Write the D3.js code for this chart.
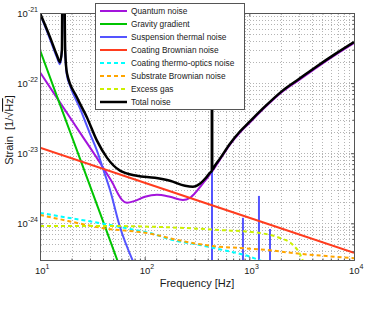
<!DOCTYPE html>
<html>
<head>
<meta charset="utf-8">
<script src="https://cdn.jsdelivr.net/npm/d3@7"></script>
<style>
body { margin: 0; background: #fff; }
text { font-family: "Liberation Sans", Arial, sans-serif; fill: #1a1a1a; }
</style>
</head>
<body>
<div id="chart"></div>
<script>

// data: [frequency Hz, strain 1/sqrt(Hz)]

const quantumNoise = [[10,1.43e-22],[15.5,5.31e-23],[24.1,1.97e-23],[37.4,7.33e-24],[43.6,5.1e-24],[49.8,3.67e-24],[55.6,2.64e-24],[60.7,2.16e-24],[67.8,1.96e-24],[80.7,2.09e-24],[100.7,2.39e-24],[131,2.55e-24],[174.5,2.39e-24],[232,2.16e-24],[271,2.31e-24],[316,2.91e-24],[377,4.05e-24],[440,5.45e-24],[524,8.09e-24],[653,1.33e-23],[813,1.97e-23],[1013,2.74e-23],[1349,4.22e-23],[2094,7.64e-23],[3043,1.13e-22],[4426,1.68e-22],[6577,2.5e-22],[10000,3.72e-22]]

const gravityGradient = [[10,2.95e-22],[15.5,4.97e-23],[24.1,8.38e-24],[37.4,1.41e-24],[55.6,2.8e-25]]

const suspensionThermal = [[10,9.7e-22],[12.46,4.25e-22],[14.5,2.34e-22],[15.5,1.86e-22],[16.2,2.9e-22],[16.4,5e-21],[17.0,5e-21],[17.4,2.76e-22],[18.1,1.29e-22],[19.3,9.33e-23],[24.1,4.35e-23],[30.0,1.91e-23],[35.0,1.09e-23],[40.0,6.01e-24],[46.6,3.01e-24],[58.1,8.87e-25],[77.3,2.89e-25]]

// violin mode peaks of the suspension
const violinFreqs = [440, 869, 1236, 1575]
const violinPeaks = [1e-21, 1.2e-24, 2.46e-24, 8.3e-25]

const coatingBrownian = [[10,1.2e-23],[100,3.8e-24],[1000,1.2e-24],[10000,3.8e-25]]

const coatingThermoOptic = [[10,1.41e-24],[19.3,1.19e-24],[37.4,1.01e-24],[72.4,8.31e-25],[112,7.28e-25],[186,5.78e-25],[337,4.91e-25],[560,4.16e-25],[908,3.52e-25],[1320,2.89e-25]]

const substrateBrownian = [[10,1.32e-24],[18.5,1.08e-24],[39.1,8.59e-25],[117.5,7.05e-25],[186,5.98e-25],[449,4.74e-25],[813,4.44e-25],[1507,4.16e-25],[2608,3.77e-25],[5508,3.41e-25],[10000,3.19e-25]]

const excessGas = [[10,9.18e-25],[37.4,9.18e-25],[140,8.87e-25],[524,8.03e-25],[1262,7.28e-25],[1958,6.18e-25],[2553,5.07e-25],[3043,3.65e-25],[3318,2.71e-25]]

const totalNoise = [[10,1e-21],[12.46,4.53e-22],[14.5,2.5e-22],[15.5,1.99e-22],[16.2,2.95e-22],[16.4,5e-21],[17.0,5e-21],[17.4,2.95e-22],[18.1,1.38e-22],[22.5,6.27e-23],[28.1,3.24e-23],[35.0,1.51e-23],[43.6,8.65e-24],[58.1,5.64e-24],[84.4,4.77e-24],[125,4.47e-24],[174.5,4.05e-24],[243,3.43e-24],[289,3.32e-24],[337,3.67e-24],[385,4.47e-24],[421,5.27e-24],[438,5.6e-24],[439,5e-21],[441,5e-21],[442,5.8e-24],[469,6.64e-24],[524,8.38e-24],[653,1.37e-23],[813,2.04e-23],[1013,2.84e-23],[1349,4.35e-23],[2094,7.88e-23],[3043,1.17e-22],[4426,1.74e-22],[6577,2.59e-22],[10000,3.85e-22]]

const seriesNames = ["Quantum noise", "Gravity gradient", "Suspension thermal noise", "Coating Brownian noise",
  "Coating thermo-optics noise", "Substrate Brownian noise", "Excess gas", "Total noise"]
const seriesData = [quantumNoise, gravityGradient, suspensionThermal, coatingBrownian,
  coatingThermoOptic, substrateBrownian, excessGas, totalNoise]

const xTicks = [10, 100, 1000, 10000]
const xTickExp = ["1", "2", "3", "4"]
const yTicks = [1e-21, 1e-22, 1e-23, 1e-24]
const yTickExp = ["-21", "-22", "-23", "-24"]

// styles

const styles = [
  {color: "#a314dc", width: 2},
  {color: "#00c400", width: 2},
  {color: "#5454ff", width: 2},
  {color: "#ff3c1e", width: 2},
  {color: "#00ffff", width: 2, dash: "4,3"},
  {color: "#ffa500", width: 2, dash: "4,3"},
  {color: "#ccf000", width: 2, dash: "4,3"},
  {color: "#000000", width: 2.5}
]

const width = 388
const height = 309
const margin = {top: 13, right: 34, bottom: 49, left: 40}
const innerW = width - margin.left - margin.right
const innerH = height - margin.top - margin.bottom

const svg = d3.select("#chart")
  .append("svg")
  .attr("width", width)
  .attr("height", height)

const g = svg.append("g")
  .attr("transform", `translate(${margin.left},${margin.top})`)

// scales

const xScale = d3.scaleLog()
  .domain([10, 10000])
  .range([0, innerW])

const yScale = d3.scaleLog()
  .domain([3e-25, 1e-21])
  .range([innerH, 0])

// minor tick positions
const xMinor = []
for (let d = 1; d < 4; d++) for (let k = 2; k < 10; k++) xMinor.push(k * Math.pow(10, d))
const yMinor = []
for (let d = -25; d < -21; d++) for (let k = 2; k < 10; k++) {
  const v = k * Math.pow(10, d)
  if (v >= 3e-25 && v <= 1e-21) yMinor.push(v)
}

// grid

function styleGrid(sel) {
  sel.select(".domain").remove()
  sel.selectAll("line")
    .attr("stroke", "#b4b4b4")
    .attr("stroke-width", 1)
    .attr("stroke-dasharray", "1,2")
    .attr("shape-rendering", "crispEdges")
}

g.append("g")
  .attr("transform", `translate(0,${innerH})`)
  .call(d3.axisBottom(xScale).tickValues(xMinor.concat(xTicks)).tickSize(-innerH).tickFormat(""))
  .call(styleGrid)

g.append("g")
  .call(d3.axisLeft(yScale).tickValues(yMinor.concat(yTicks)).tickSize(-innerW).tickFormat(""))
  .call(styleGrid)

// curves

g.append("clipPath")
  .attr("id", "clip")
  .append("rect")
  .attr("width", innerW)
  .attr("height", innerH)

const plot = g.append("g").attr("clip-path", "url(#clip)")

const lineGen = d3.line()
  .x(d => xScale(d[0]))
  .y(d => yScale(d[1]))
  .curve(d3.curveMonotoneX)

seriesData.forEach((data, i) => {
  plot.append("path")
    .datum(data)
    .attr("fill", "none")
    .attr("stroke", styles[i].color)
    .attr("stroke-width", styles[i].width)
    .attr("stroke-dasharray", styles[i].dash || null)
    .attr("stroke-linejoin", "round")
    .attr("d", lineGen)

  // violin modes go with the suspension curve
  if (i === 2) {
    plot.selectAll(".violin")
      .data(violinFreqs)
      .join("line")
      .attr("class", "violin")
      .attr("x1", d => xScale(d))
      .attr("x2", d => xScale(d))
      .attr("y1", innerH + 5)
      .attr("y2", (d, j) => yScale(violinPeaks[j]))
      .attr("stroke", styles[2].color)
      .attr("stroke-width", 2)
  }
})

// axes box and ticks (inward, all four sides)

function styleAxis(sel) {
  sel.select(".domain").attr("stroke", "#555")
  sel.selectAll("line").attr("stroke", "#555")
}

g.append("g").attr("transform", `translate(0,${innerH})`)
  .call(d3.axisBottom(xScale).tickValues(xTicks).tickSizeInner(-3).tickSizeOuter(0).tickFormat(""))
  .call(styleAxis)
g.append("g").attr("transform", `translate(0,${innerH})`)
  .call(d3.axisBottom(xScale).tickValues(xMinor).tickSizeInner(-1.5).tickSizeOuter(0).tickFormat(""))
  .call(styleAxis)
g.append("g")
  .call(d3.axisTop(xScale).tickValues(xTicks).tickSizeInner(-3).tickSizeOuter(0).tickFormat(""))
  .call(styleAxis)
g.append("g")
  .call(d3.axisTop(xScale).tickValues(xMinor).tickSizeInner(-1.5).tickSizeOuter(0).tickFormat(""))
  .call(styleAxis)
g.append("g")
  .call(d3.axisLeft(yScale).tickValues(yTicks).tickSizeInner(-3).tickSizeOuter(0).tickFormat(""))
  .call(styleAxis)
g.append("g")
  .call(d3.axisLeft(yScale).tickValues(yMinor).tickSizeInner(-1.5).tickSizeOuter(0).tickFormat(""))
  .call(styleAxis)
g.append("g").attr("transform", `translate(${innerW},0)`)
  .call(d3.axisRight(yScale).tickValues(yTicks).tickSizeInner(-3).tickSizeOuter(0).tickFormat(""))
  .call(styleAxis)
g.append("g").attr("transform", `translate(${innerW},0)`)
  .call(d3.axisRight(yScale).tickValues(yMinor).tickSizeInner(-1.5).tickSizeOuter(0).tickFormat(""))
  .call(styleAxis)

// tick labels with exponents

xTicks.forEach((t, i) => {
  const txt = g.append("text")
    .attr("x", xScale(t) - 5)
    .attr("y", innerH + 14)
    .attr("font-size", 9.5)
  txt.append("tspan").text("10")
  txt.append("tspan").attr("font-size", 7).attr("dy", -5).text(xTickExp[i])
})

yTicks.forEach((t, i) => {
  const txt = g.append("text")
    .attr("x", -2)
    .attr("y", yScale(t) + 3.5)
    .attr("text-anchor", "end")
    .attr("font-size", 9.5)
  txt.append("tspan").text("10")
  txt.append("tspan").attr("font-size", 7).attr("dy", -5).text(yTickExp[i])
})

// axis titles

svg.append("text")
  .attr("x", 197)
  .attr("y", 287)
  .attr("text-anchor", "middle")
  .attr("font-size", 11)
  .text("Frequency [Hz]")

const yLabel = svg.append("text")
  .attr("transform", "translate(13,130) rotate(-90)")
  .attr("text-anchor", "middle")
  .attr("font-size", 11)
  .attr("xml:space", "preserve")
  .style("white-space", "pre")
yLabel.append("tspan").text("Strain  [1/√")
yLabel.append("tspan").style("text-decoration", "overline").text("Hz")
yLabel.append("tspan").text("]")

// legend

const legend = svg.append("g")
legend.append("rect")
  .attr("x", 95.5)
  .attr("y", 3.5)
  .attr("width", 149)
  .attr("height", 106)
  .attr("fill", "#fff")
  .attr("stroke", "#555")
  .attr("stroke-width", 1)

seriesNames.forEach((name, i) => {
  const y = 11 + i * 13
  legend.append("line")
    .attr("x1", 100)
    .attr("x2", 127)
    .attr("y1", y)
    .attr("y2", y)
    .attr("stroke", styles[i].color)
    .attr("stroke-width", styles[i].width)
    .attr("stroke-dasharray", styles[i].dash || null)
  legend.append("text")
    .attr("x", 131)
    .attr("y", y + 3)
    .attr("font-size", 8.3)
    .text(name)
})

</script>
</body>
</html>
